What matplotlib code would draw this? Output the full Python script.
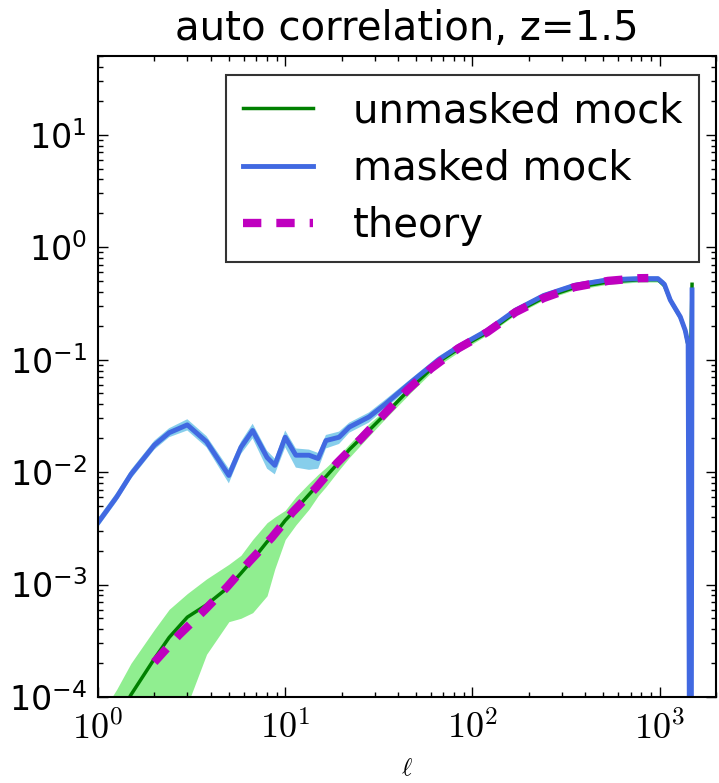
import matplotlib
matplotlib.use("Agg")
import matplotlib.pyplot as plt
import numpy as np
from matplotlib.ticker import FuncFormatter, LogFormatterSciNotation, LogLocator

plt.rcParams["mathtext.fontset"] = "cm"
plt.rcParams["font.family"] = "DejaVu Sans"

# multipoles shared by the mock spectra
ell = np.array([1, 1.26, 1.5, 2, 2.4, 3, 3.8, 5, 5.8, 6.7, 8, 8.8, 10, 11.4, 13.4,
                15, 16.5, 19.4, 22, 28, 34, 47, 66, 85, 120, 170, 240, 350, 530,
                780, 980, 1060, 1140, 1290, 1370, 1420, 1465, 1490])

# log10 C_ell of the unmasked mock, with its scatter band
log_unmasked = np.array([-4.45, -4.2, -3.98, -3.66, -3.47, -3.29, -3.18, -3.02, -2.9,
                         -2.78, -2.62, -2.55, -2.43, -2.33, -2.2, -2.11, -2.04, -1.91,
                         -1.8, -1.63, -1.49, -1.25, -1.02, -0.9, -0.76, -0.58, -0.45,
                         -0.36, -0.31, -0.29, -0.29, -0.34, -0.47, -0.62, -0.74, -0.88,
                         -0.95, -0.33])
log_unmasked_hi = np.array([-4.2, -3.93, -3.7, -3.4, -3.22, -3.08, -2.95, -2.82, -2.74,
                            -2.6, -2.45, -2.4, -2.34, -2.22, -2.1, -2.02, -1.96, -1.85,
                            -1.75, -1.57, -1.45, -1.22, -1.0, -0.88, -0.74, -0.56, -0.43,
                            -0.34, -0.29, -0.27, -0.27, -0.32, -0.45, -0.6, -0.71, -0.85,
                            -0.9, -0.3])
log_unmasked_lo = np.array([-6.0, -5.5, -5.0, -4.6, -4.35, -4.07, -3.62, -3.33, -3.3,
                            -3.25, -3.1, -2.86, -2.6, -2.47, -2.33, -2.21, -2.13, -1.98,
                            -1.87, -1.68, -1.53, -1.29, -1.05, -0.93, -0.78, -0.6, -0.47,
                            -0.38, -0.33, -0.31, -0.31, -0.37, -0.5, -0.65, -0.78, -0.92,
                            -1.0, -0.36])

# log10 C_ell of the masked mock, with its scatter band
log_masked = np.array([-2.45, -2.22, -2.02, -1.76, -1.65, -1.58, -1.73, -2.03, -1.78,
                       -1.63, -1.87, -1.94, -1.69, -1.85, -1.85, -1.88, -1.72, -1.69,
                       -1.6, -1.51, -1.4, -1.2, -1.0, -0.88, -0.74, -0.56, -0.43, -0.34,
                       -0.29, -0.28, -0.28, -0.33, -0.47, -0.62, -0.74, -0.86, -8.0,
                       -0.38])
log_masked_hi = np.array([-2.41, -2.18, -1.98, -1.72, -1.61, -1.53, -1.68, -1.97, -1.73,
                          -1.57, -1.81, -1.88, -1.63, -1.79, -1.8, -1.83, -1.67, -1.64,
                          -1.56, -1.47, -1.36, -1.17, -0.97, -0.86, -0.72, -0.54, -0.41,
                          -0.32, -0.27, -0.26, -0.26, -0.3, -0.44, -0.59, -0.7, -0.82,
                          -7.0, -0.34])
log_masked_lo = np.array([-2.49, -2.26, -2.06, -1.8, -1.69, -1.63, -1.78, -2.1, -1.84,
                          -1.7, -1.97, -2.02, -1.78, -1.96, -1.98, -1.97, -1.79, -1.75,
                          -1.65, -1.56, -1.44, -1.24, -1.03, -0.91, -0.77, -0.59, -0.46,
                          -0.37, -0.32, -0.31, -0.31, -0.36, -0.51, -0.66, -0.79, -0.91,
                          -9.0, -0.42])

# theory prediction
ell_theory = np.array([2, 2.7, 3.7, 4.9, 6.4, 8.5, 10.9, 14.6, 18.9, 25.5, 34, 45, 60,
                       84, 120, 170, 240, 350, 530, 780, 870])
log_theory = np.array([-3.69, -3.45, -3.23, -3.02, -2.8, -2.58, -2.36, -2.14, -1.92,
                       -1.70, -1.48, -1.27, -1.08, -0.90, -0.756, -0.578, -0.453,
                       -0.356, -0.30, -0.276, -0.275])

fig = plt.figure(figsize=(7.19, 7.83), dpi=100)
ax = fig.add_axes([0.1363, 0.1098, 0.8595, 0.8186])

ax.fill_between(ell, 10**log_unmasked_lo, 10**log_unmasked_hi,
                color="lightgreen", linewidth=0)
ax.plot(ell, 10**log_unmasked, color="g", lw=2.5, label="unmasked mock")
ax.fill_between(ell, 10**log_masked_lo, 10**log_masked_hi,
                color="skyblue", linewidth=0)
ax.plot(ell, 10**log_masked, color="royalblue", lw=3.5, label="masked mock")
ax.plot(ell_theory, 10**log_theory, color="m", lw=6, dashes=(2.2, 1.8),
        dash_capstyle="butt", label="theory")

ax.set_xscale("log")
ax.set_yscale("log")
ax.set_xlim(1, 2000)
ax.set_ylim(1e-4, 50)

ax.xaxis.set_major_locator(LogLocator(base=10))
ax.xaxis.set_major_formatter(FuncFormatter(lambda v, p: r"$10^{%d}$" % round(np.log10(v))))
ax.yaxis.set_major_formatter(LogFormatterSciNotation())
ax.tick_params(which="both", direction="in", top=True, right=True)
ax.tick_params(which="major", length=7, width=1, labelsize=24, pad=8)
ax.tick_params(axis="x", which="major", labelsize=26, pad=10)
ax.tick_params(which="minor", length=3.5, width=1)
for s in ax.spines.values():
    s.set_linewidth(1.5)

ax.set_title("auto correlation, z=1.5", fontsize=29, pad=11.5)
ax.set_xlabel(r"$\ell$", fontsize=18, labelpad=7)

leg = ax.legend(loc="upper right", bbox_to_anchor=(0.9725, 0.970), borderaxespad=0,
                fontsize=29, fancybox=False, handlelength=1.75, handletextpad=1.0,
                labelspacing=0.43, borderpad=0.4)
leg.get_frame().set_edgecolor("black")
leg.get_frame().set_linewidth(1.5)

fig.savefig("out.png", dpi=100)
